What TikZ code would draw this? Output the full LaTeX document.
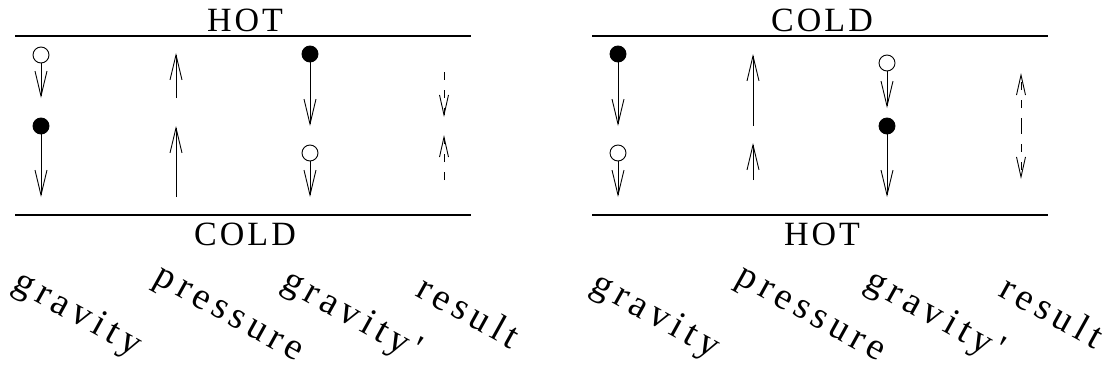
\documentclass[tikz,border=0pt]{standalone}
\usepackage{fontspec}
\setmainfont{Liberation Serif}
\newfontfamily\sidefont[LetterSpace=9]{Liberation Serif}
\newfontfamily\tagfont[LetterSpace=14]{Liberation Serif}
\usetikzlibrary{arrows.meta}

\begin{document}
\begin{tikzpicture}[x=1pt, y=-1pt,
    wall/.style={line width=1.4pt},
    side/.style={font=\sidefont\fontsize{34}{36}\selectfont, anchor=base, inner sep=0pt},
    tag/.style={font=\tagfont\fontsize{38}{40}\selectfont, rotate=-29, inner sep=0pt},
    bubble/.style={circle, draw, line width=0.9pt, minimum size=16pt, inner sep=0pt},
    light/.style={bubble, fill=white},
    heavy/.style={bubble, fill=black},
    force/.style={-{Straight Barb[length=25pt,width=12pt]}, line width=0.9pt},
    net/.style={-{Straight Barb[length=20pt,width=9pt]}, line width=0.9pt, dash pattern=on 8pt off 10pt}]
    \useasboundingbox (0,0) rectangle (1108,375);

    % Left panel: hot above, cold below
    \draw[wall] (15,36) -- (471,36);
    \draw[wall] (15,215) -- (471,215);
    \node[side] (hotL) at (245,31) {HOT};
    \node[side] (coldL) at (245,245) {COLD};

    % gravity
    \node[light] (oL1) at (41,55) {};
    \coordinate (goL1) at (41,98);
    \draw[force] (oL1) -- (goL1);
    \node[heavy] (hL1) at (41,126) {};
    \coordinate (ghL1) at (41,197);
    \draw[force] (hL1) -- (ghL1);

    % pressure
    \coordinate (pL1a) at (176,98);
    \coordinate (pL1b) at (176,53);
    \draw[force] (pL1a) -- (pL1b);
    \coordinate (pL2a) at (176,197);
    \coordinate (pL2b) at (176,126);
    \draw[force] (pL2a) -- (pL2b);

    % gravity after the swap
    \node[heavy] (hL3) at (310,54) {};
    \coordinate (ghL3) at (310,126);
    \draw[force] (hL3) -- (ghL3);
    \node[light] (oL3) at (310,153) {};
    \coordinate (goL3) at (310,197);
    \draw[force] (oL3) -- (goL3);

    % result
    \coordinate (rL1a) at (444,72);
    \coordinate (rL1b) at (444,117);
    \draw[net] (rL1a) -- (rL1b);
    \coordinate (rL2a) at (444,180);
    \coordinate (rL2b) at (444,135);
    \draw[net] (rL2a) -- (rL2b);

    \node[tag] (gravL) at (77,315) {gravity};
    \node[tag] (presL) at (227,318) {pressure};
    \node[tag] (gravpL) at (351,317) {gravity'};
    \node[tag] (resL) at (469,311) {result};

    % Right panel: cold above, hot below
    \draw[wall] (592,36) -- (1048,36);
    \draw[wall] (592,215) -- (1048,215);
    \node[side] (coldR) at (822,31) {COLD};
    \node[side] (hotR) at (822,245) {HOT};

    % gravity
    \node[heavy] (hR1) at (618,54) {};
    \coordinate (ghR1) at (618,126);
    \draw[force] (hR1) -- (ghR1);
    \node[light] (oR1) at (618,153) {};
    \coordinate (goR1) at (618,197);
    \draw[force] (oR1) -- (goR1);

    % pressure
    \coordinate (pR1a) at (753,126);
    \coordinate (pR1b) at (753,54);
    \draw[force] (pR1a) -- (pR1b);
    \coordinate (pR2a) at (753,180);
    \coordinate (pR2b) at (753,143);
    \draw[force] (pR2a) -- (pR2b);

    % gravity after the swap
    \node[light] (oR3) at (887,63) {};
    \coordinate (goR3) at (887,108);
    \draw[force] (oR3) -- (goR3);
    \node[heavy] (hR3) at (887,126) {};
    \coordinate (ghR3) at (887,197);
    \draw[force] (hR3) -- (ghR3);

    % result
    \coordinate (rRm) at (1021,126);
    \coordinate (rRa) at (1021,73);
    \coordinate (rRb) at (1021,179);
    \draw[net] (rRm) -- (rRa);
    \draw[net] (rRm) -- (rRb);

    \node[tag] (gravR) at (655,317) {gravity};
    \node[tag] (presR) at (809,318) {pressure};
    \node[tag] (gravpR) at (934,317) {gravity'};
    \node[tag] (resR) at (1052,311) {result};
\end{tikzpicture}
\end{document}
